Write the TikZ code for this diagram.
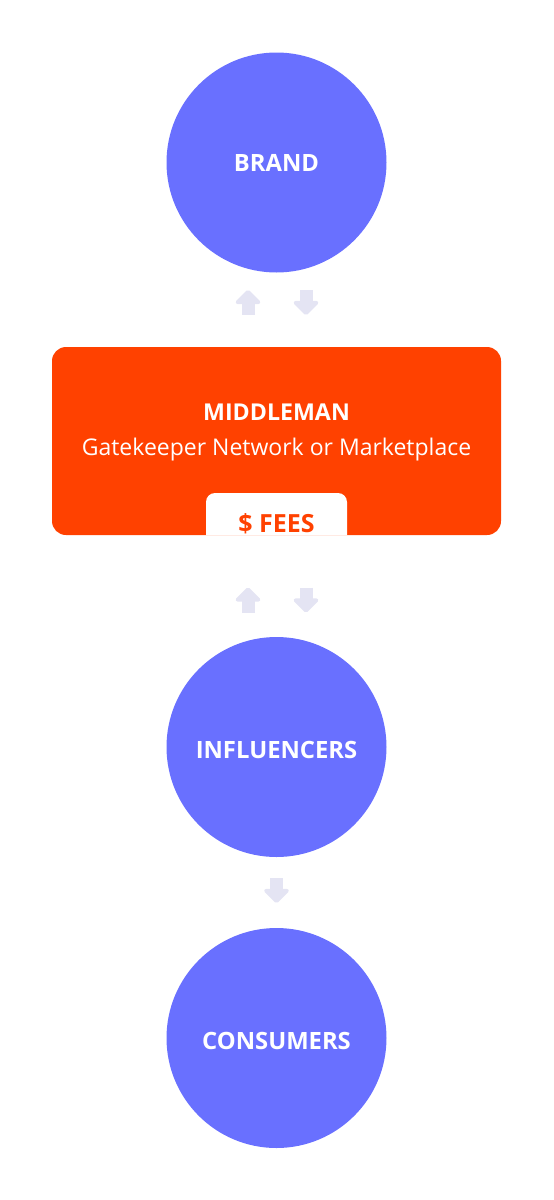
\documentclass[tikz,border=0pt]{standalone}
\usepackage{fontspec}
\setmainfont{Open Sans}
\usetikzlibrary{arrows.meta}

\definecolor{partyblue}{HTML}{6970FF}
\definecolor{middleorange}{HTML}{FF4100}
\definecolor{arrowgrey}{HTML}{E4E4F3}

\tikzset{
    party/.style={circle, fill=partyblue, minimum size=220pt, inner sep=0pt},
    partytext/.style={anchor=base, text=white, font=\bfseries\fontsize{23.8}{28}\selectfont},
    middlebox/.style={rectangle, rounded corners=14pt, fill=middleorange,
        minimum width=449pt, minimum height=188pt, inner sep=0pt},
    flowarrow/.style={draw=arrowgrey, line width=13pt,
        arrows={-Triangle[width=29pt, length=15pt, round]}},
}

\begin{document}
\begin{tikzpicture}[x=1pt, y=-1pt]

    \useasboundingbox (0, 0) rectangle (554, 1200);

    \path node (brand) [party] at (276.5, 162.5) {};
    \path node (middleman) [middlebox] at (276.5, 441) {};
    \path node (influencers) [party] at (276.5, 747) {};
    \path node (consumers) [party] at (276.5, 1038) {};

    \path node (brandtext) [partytext] at (276.5, 171.5) {BRAND};
    \path node (influencerstext) [partytext] at (276.5, 758) {INFLUENCERS};
    \path node (consumerstext) [partytext] at (276.5, 1049) {CONSUMERS};

    \path node (title) [partytext, font=\bfseries\fontsize{23.2}{28}\selectfont] at (276.5, 420) {MIDDLEMAN};
    \path node (subtitle) [anchor=base, text=white, font=\fontsize{23}{27}\selectfont] at (276.5, 455) {Gatekeeper Network or Marketplace};

    \fill[white, rounded corners=9pt] (206, 535) |- (347, 493) -- (347, 535);
    \path node (fees) [partytext, text=middleorange, font=\bfseries\fontsize{25}{28}\selectfont] at (276.5, 532.5) {\$ FEES};

    \coordinate (up1a) at (248, 315);   \coordinate (up1b) at (248, 290);
    \coordinate (dn1a) at (306, 290);   \coordinate (dn1b) at (306, 315);
    \coordinate (up2a) at (248, 612.5); \coordinate (up2b) at (248, 587.5);
    \coordinate (dn2a) at (306, 587.5); \coordinate (dn2b) at (306, 612.5);
    \coordinate (dn3a) at (276.5, 878); \coordinate (dn3b) at (276.5, 903);

    \draw[flowarrow] (up1a) -- (up1b);
    \draw[flowarrow] (dn1a) -- (dn1b);
    \draw[flowarrow] (up2a) -- (up2b);
    \draw[flowarrow] (dn2a) -- (dn2b);
    \draw[flowarrow] (dn3a) -- (dn3b);

\end{tikzpicture}
\end{document}
